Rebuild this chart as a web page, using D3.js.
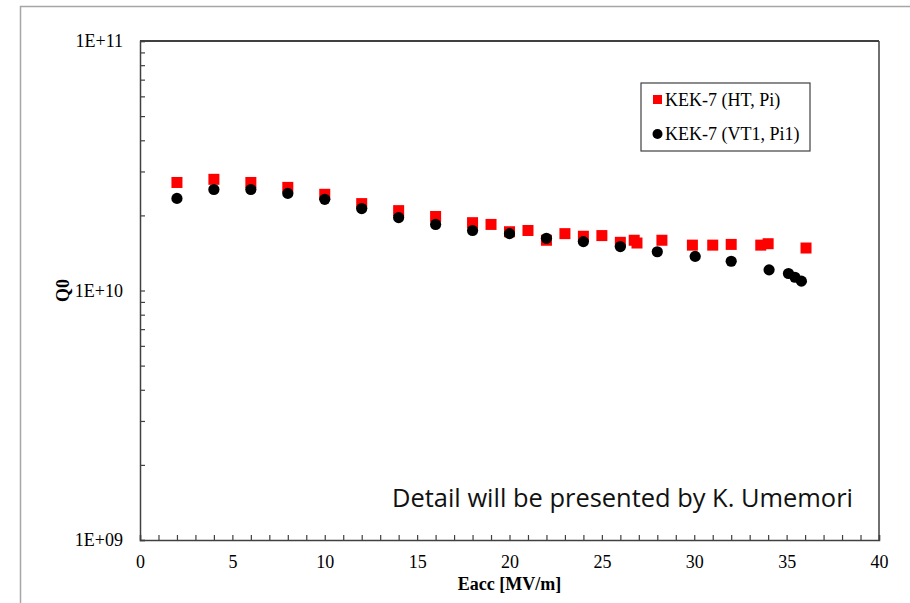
<!DOCTYPE html>
<html>
<head>
  <title>KEK-7 Q0 vs Eacc</title>
  <script src="https://d3js.org/d3.v7.min.js"></script>
  <style>
    body { margin: 0; background: #fff; }
    svg text { font-family: "Liberation Serif", "Times New Roman", serif; }
  </style>
</head>
<body>
<div id="chart"></div>
<script>
  // HT, Pi  (red squares)
  var htEacc = [2, 4, 6, 8, 10, 12, 14, 16, 18, 19, 20, 21, 22, 23, 24, 25, 26, 26.75, 26.9, 28.25, 29.9, 31, 32, 33.6, 34, 36.05];
  var htQ0 = [2.71e10, 2.79e10, 2.71e10, 2.59e10, 2.43e10, 2.23e10, 2.09e10, 1.98e10, 1.87e10, 1.84e10, 1.72e10, 1.74e10, 1.59e10, 1.69e10, 1.65e10, 1.66e10, 1.56e10, 1.59e10, 1.55e10, 1.59e10, 1.52e10, 1.52e10, 1.53e10, 1.52e10, 1.54e10, 1.48e10];
  // VT1, Pi1 (black circles)
  var vtEacc = [2, 4, 6, 8, 10, 12, 14, 16, 18, 20, 22, 24, 26, 28, 30.05, 32, 34.05, 35.1, 35.45, 35.8];
  var vtQ0 = [2.34e10, 2.54e10, 2.54e10, 2.45e10, 2.32e10, 2.13e10, 1.96e10, 1.84e10, 1.74e10, 1.69e10, 1.62e10, 1.57e10, 1.50e10, 1.43e10, 1.37e10, 1.31e10, 1.21e10, 1.17e10, 1.13e10, 1.09e10];

  var xTicks = [0, 5, 10, 15, 20, 25, 30, 35, 40];
  var yTicks = [1e9, 1e10, 1e11];
  var yTickLabels = ["1E+09", "1E+10", "1E+11"];
  var legendLabels = ["KEK-7 (HT, Pi)", "KEK-7 (VT1, Pi1)"];

  var width = 910, height = 603;
  var margin = { left: 140, top: 41, right: 31, bottom: 63 };
  var fs = "18px";

  var svg = d3.select("#chart").append("svg")
    .attr("width", width)
    .attr("height", height);

  // outer slide frame
  svg.append("rect")
    .attr("x", 20.5).attr("y", 6.5)
    .attr("width", 900).attr("height", 620)
    .attr("fill", "none").attr("stroke", "#a6a6a6").attr("stroke-width", 1.5);

  var x = d3.scaleLinear().domain([0, 40]).range([margin.left, width - margin.right]);
  var y = d3.scaleLog().domain([1e9, 1e11]).range([height - margin.bottom, margin.top]);

  var g = svg.append("g");

  // plot frame: top + right
  g.append("line")
    .attr("x1", x(0)).attr("x2", x(40))
    .attr("y1", y(1e11)).attr("y2", y(1e11))
    .attr("stroke", "#000").attr("stroke-width", 1.5);
  g.append("line")
    .attr("x1", x(40)).attr("x2", x(40))
    .attr("y1", y(1e11)).attr("y2", y(1e9))
    .attr("stroke", "#404040").attr("stroke-width", 1.5);

  // x axis, ticks pointing inward
  var xMinor = d3.range(0, 41, 1);
  var xAxis = d3.axisBottom(x).tickValues(xMinor).tickSize(-5)
    .tickFormat(function(d) { return xTicks.indexOf(d) >= 0 ? d : ""; });
  var xg = g.append("g")
    .attr("transform", "translate(0," + y(1e9) + ")")
    .call(xAxis);
  xg.select(".domain").attr("stroke", "#404040").attr("stroke-width", 1.5);
  xg.selectAll(".tick line").attr("stroke", "#404040").attr("stroke-width", 1.2);
  xg.selectAll(".tick text")
    .attr("y", 15).attr("dy", "0.71em")
    .attr("fill", "#000")
    .style("font-size", fs)
    .style("font-family", "'Liberation Serif', serif");

  // y axis, log with minor ticks
  var yMinor = [];
  [1e9, 1e10].forEach(function(dec) {
    for (var k = 1; k <= 9; k++) yMinor.push(dec * k);
  });
  yMinor.push(1e11);
  var yAxis = d3.axisLeft(y).tickValues(yMinor).tickSize(-5)
    .tickFormat(function(d) {
      var i = yTicks.indexOf(d);
      return i >= 0 ? yTickLabels[i] : "";
    });
  var yg = g.append("g")
    .attr("transform", "translate(" + x(0) + ",0)")
    .call(yAxis);
  yg.select(".domain").attr("stroke", "#404040").attr("stroke-width", 1.5);
  yg.selectAll(".tick line").attr("stroke", "#404040").attr("stroke-width", 1.2);
  yg.selectAll(".tick text")
    .attr("x", -17)
    .attr("fill", "#000")
    .style("font-size", fs)
    .style("font-family", "'Liberation Serif', serif");

  // axis titles
  svg.append("text")
    .attr("x", x(20)).attr("y", 590)
    .attr("text-anchor", "middle")
    .style("font-size", fs).style("font-weight", "bold")
    .text("Eacc [MV/m]");
  svg.append("text")
    .attr("transform", "translate(69," + y(1e10) + ") rotate(-90)")
    .attr("text-anchor", "middle")
    .style("font-size", fs).style("font-weight", "bold")
    .text("Q0");

  // data
  var ht = htEacc.map(function(d, i) { return [d, htQ0[i]]; });
  var vt = vtEacc.map(function(d, i) { return [d, vtQ0[i]]; });
  var sq = 11;

  g.selectAll("rect.ht").data(ht).enter().append("rect")
    .attr("class", "ht")
    .attr("x", function(d) { return x(d[0]) - sq / 2; })
    .attr("y", function(d) { return y(d[1]) - sq / 2; })
    .attr("width", sq).attr("height", sq)
    .attr("fill", "#ff0000");

  g.selectAll("circle.vt").data(vt).enter().append("circle")
    .attr("class", "vt")
    .attr("cx", function(d) { return x(d[0]); })
    .attr("cy", function(d) { return y(d[1]); })
    .attr("r", 5.6)
    .attr("fill", "#000");

  // legend
  var lg = svg.append("g").attr("transform", "translate(641,83)");
  lg.append("rect")
    .attr("width", 169).attr("height", 68)
    .attr("fill", "#fff").attr("stroke", "#404040").attr("stroke-width", 1.2);
  lg.append("rect")
    .attr("x", 12).attr("y", 12).attr("width", 9).attr("height", 9)
    .attr("fill", "#ff0000");
  lg.append("circle")
    .attr("cx", 16.5).attr("cy", 51).attr("r", 5)
    .attr("fill", "#000");
  lg.selectAll("text.lbl").data(legendLabels).enter().append("text")
    .attr("class", "lbl")
    .attr("x", 24)
    .attr("y", function(d, i) { return 23 + i * 34; })
    .style("font-size", fs)
    .text(function(d) { return d; });

  // annotation
  svg.append("text")
    .attr("x", 392).attr("y", 507)
    .attr("textLength", 461).attr("lengthAdjust", "spacingAndGlyphs")
    .style("font-family", "'Open Sans', 'Noto Sans', sans-serif")
    .style("font-size", "25px")
    .attr("fill", "#111")
    .text("Detail will be presented by K. Umemori");
</script>
</body>
</html>
